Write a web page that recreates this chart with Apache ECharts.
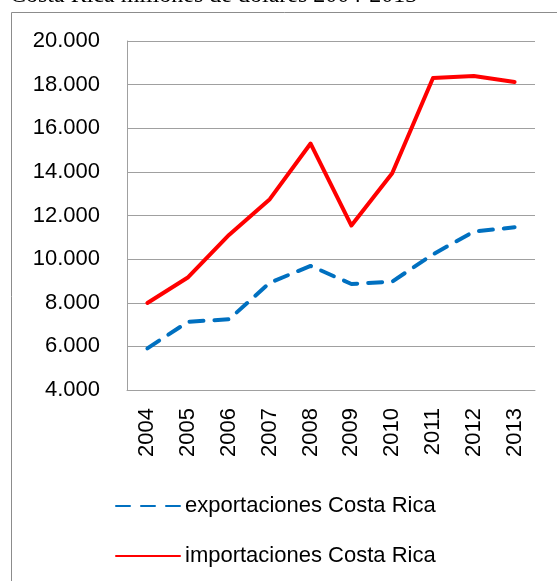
<!DOCTYPE html>
<html><head><meta charset="utf-8">
<script src="https://cdn.jsdelivr.net/npm/echarts@6/dist/echarts.min.js"></script>
<style>html,body{margin:0;padding:0;background:#fff}#c{width:557px;height:581px}</style>
</head><body><div id="c"></div>
<script>
const years = ['2004','2005','2006','2007','2008','2009','2010','2011','2012','2013'];
const exportaciones = [5910, 7130, 7240, 8920, 9690, 8860, 8970, 10220, 11260, 11460];
const importaciones = [7990, 9170, 11110, 12750, 15300, 11540, 13940, 18300, 18400, 18120];
const yTicks = [4000, 20000, 2000];
const titleText = 'Costa Rica millones de dolares 2004-2013';

const chart = echarts.init(document.getElementById('c'), null, {renderer:'canvas'});
const fmt = v => String(v).replace(/\B(?=(\d{3})+(?!\d))/g, '.');
chart.setOption({
  animation:false,
  backgroundColor:'#fff',
  textStyle:{fontFamily:'Liberation Sans'},
  graphic:[
    {type:'polyline', shape:{points:[[11.5,581],[11.5,12.5],[560,12.5]]}, style:{stroke:'#8c8c8c', lineWidth:1, fill:null}},
    {type:'text', left:10, top:-16, style:{text:titleText, font:'24px "Liberation Serif"', fill:'#000'}}
  ],
  grid:{left:127, right:22, top:41, bottom:191},
  xAxis:{type:'category', data:years, boundaryGap:true,
    axisLine:{lineStyle:{color:'#a0a0a0', width:1}}, axisTick:{show:false},
    axisLabel:{rotate:90, margin:18, color:'#000', fontSize:22, fontFamily:'Liberation Sans'}},
  yAxis:{type:'value', min:yTicks[0], max:yTicks[1], interval:yTicks[2],
    axisLine:{show:true, lineStyle:{color:'#a0a0a0', width:1}}, axisTick:{show:false},
    splitLine:{lineStyle:{color:'#a0a0a0', width:1}},
    axisLabel:{margin:27, color:'#000', fontSize:22, fontFamily:'Liberation Sans', formatter:fmt}},
  legend:{orient:'vertical', left:110, top:490, itemWidth:64, itemHeight:12, itemGap:28,
    itemStyle:{opacity:0},
    textStyle:{fontSize:22, color:'#000', fontFamily:'Liberation Sans'},
    data:['exportaciones Costa Rica','importaciones Costa Rica']},
  series:[
    {name:'exportaciones Costa Rica', type:'line', data:exportaciones, symbol:'none',
     lineStyle:{color:'#0070C0', width:4, type:[14,11], cap:'round'}, itemStyle:{color:'#0070C0'}},
    {name:'importaciones Costa Rica', type:'line', data:importaciones, symbol:'none',
     lineStyle:{color:'#FF0000', width:4, cap:'round', join:'round'}, itemStyle:{color:'#FF0000'}}
  ]
});
</script></body></html>
